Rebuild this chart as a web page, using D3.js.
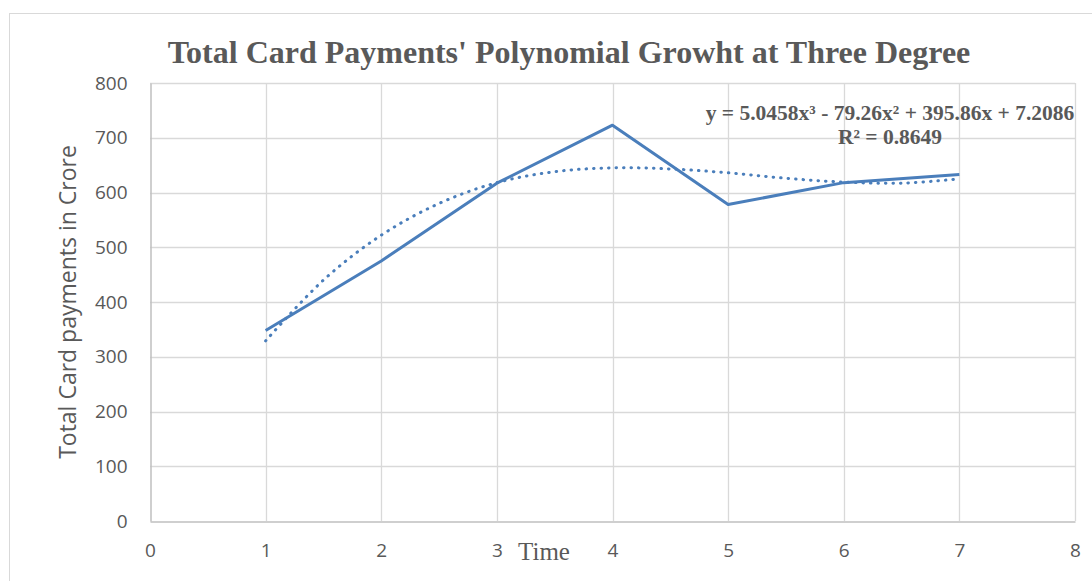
<!DOCTYPE html>
<html>
<head>
<meta charset="utf-8">
<script src="https://cdn.jsdelivr.net/npm/d3@7"></script>
<style>
  body { margin: 0; background: #fff; }
  svg { display: block; }
</style>
</head>
<body>
<div id="chart"></div>
<script>
// values
var timePoints = [1, 2, 3, 4, 5, 6, 7];
var cardPayments = [348, 475, 617, 723, 578, 618, 633];

// dotted trend curve, read at half steps
var trendX = [1, 1.5, 2, 2.5, 3, 3.5, 4, 4.5, 5, 5.5, 6, 6.5, 7];
var trendY = [329, 440, 522, 580, 618, 638, 645, 643, 636, 626, 619, 617, 625];

var xTicks = [0, 1, 2, 3, 4, 5, 6, 7, 8];
var yTicks = [0, 100, 200, 300, 400, 500, 600, 700, 800];

var chartTitle = "Total Card Payments' Polynomial Growht at Three Degree";
var eqLine = "y = 5.0458x³ - 79.26x² + 395.86x + 7.2086";
var r2Line = "R² = 0.8649";

var width = 1092, height = 581;
var margin = {top: 83, right: 17, bottom: 60, left: 150};

var svg = d3.select("#chart").append("svg")
    .attr("width", width)
    .attr("height", height);

// outer chart frame
svg.append("rect")
    .attr("x", 9.5).attr("y", 13.5)
    .attr("width", width + 20).attr("height", height + 20)
    .attr("fill", "none")
    .attr("stroke", "#d9d9d9");

var x = d3.scaleLinear().domain([0, 8]).range([margin.left, width - margin.right]);
var y = d3.scaleLinear().domain([0, 800]).range([height - margin.bottom, margin.top]);

// grid
svg.append("g").selectAll("line")
    .data(yTicks.slice(1))
    .enter().append("line")
    .attr("x1", x(0)).attr("x2", x(8))
    .attr("y1", function (d) { return Math.round(y(d)) + 0.5; })
    .attr("y2", function (d) { return Math.round(y(d)) + 0.5; })
    .attr("stroke", "#d9d9d9").attr("stroke-width", 1.3);

svg.append("g").selectAll("line")
    .data(xTicks.slice(1))
    .enter().append("line")
    .attr("y1", y(0)).attr("y2", y(800))
    .attr("x1", function (d) { return Math.round(x(d)) + 0.5; })
    .attr("x2", function (d) { return Math.round(x(d)) + 0.5; })
    .attr("stroke", "#d9d9d9").attr("stroke-width", 1.3);

// axes
var xAxis = svg.append("g")
    .attr("transform", "translate(0," + (Math.round(y(0)) + 0.5) + ")")
    .call(d3.axisBottom(x).tickValues(xTicks).tickSize(0).tickPadding(22));
var yAxis = svg.append("g")
    .attr("transform", "translate(" + (Math.round(x(0)) + 0.5) + ",0)")
    .call(d3.axisLeft(y).tickValues(yTicks).tickSize(0).tickPadding(23));

[xAxis, yAxis].forEach(function (a) {
  a.select(".domain").attr("stroke", "#bfbfbf").attr("stroke-width", 1.5);
  a.selectAll("text")
      .attr("fill", "#595959")
      .style("font-family", "'Open Sans', 'Liberation Sans', sans-serif")
      .style("font-size", "19px");
});

// trend line (dotted)
var trendLine = d3.line()
    .x(function (d, i) { return x(trendX[i]); })
    .y(function (d) { return y(d); })
    .curve(d3.curveCatmullRom);

svg.append("path")
    .datum(trendY)
    .attr("d", trendLine)
    .attr("fill", "none")
    .attr("stroke", "#4a7ebb")
    .attr("stroke-width", 3)
    .attr("stroke-linecap", "round")
    .attr("stroke-dasharray", "0.5 7");

// data line
var dataLine = d3.line()
    .x(function (d, i) { return x(timePoints[i]); })
    .y(function (d) { return y(d); });

svg.append("path")
    .datum(cardPayments)
    .attr("d", dataLine)
    .attr("fill", "none")
    .attr("stroke", "#4a7ebb")
    .attr("stroke-width", 3)
    .attr("stroke-linejoin", "round");

// title
svg.append("text")
    .attr("x", 569).attr("y", 63)
    .attr("text-anchor", "middle")
    .attr("fill", "#595959")
    .style("font-family", "'Liberation Serif', 'Times New Roman', serif")
    .style("font-weight", "bold")
    .style("font-size", "32px")
    .text(chartTitle);

// trend equation
var eq = svg.append("text")
    .attr("text-anchor", "middle")
    .attr("fill", "#595959")
    .style("font-family", "'Liberation Serif', 'Times New Roman', serif")
    .style("font-weight", "bold")
    .style("font-size", "21.5px");
eq.append("tspan").attr("x", 890).attr("y", 120).text(eqLine);
eq.append("tspan").attr("x", 890).attr("y", 144).text(r2Line);

// axis titles
svg.append("text")
    .attr("transform", "translate(76," + y(400) + ") rotate(-90)")
    .attr("text-anchor", "middle")
    .attr("fill", "#595959")
    .style("font-family", "'Open Sans', 'Liberation Sans', sans-serif")
    .style("font-size", "23px")
    .text("Total Card payments in Crore");

svg.append("text")
    .attr("x", 544).attr("y", 560)
    .attr("text-anchor", "middle")
    .attr("fill", "#595959")
    .style("font-family", "'Liberation Serif', 'Times New Roman', serif")
    .style("font-size", "25px")
    .text("Time");
</script>
</body>
</html>
